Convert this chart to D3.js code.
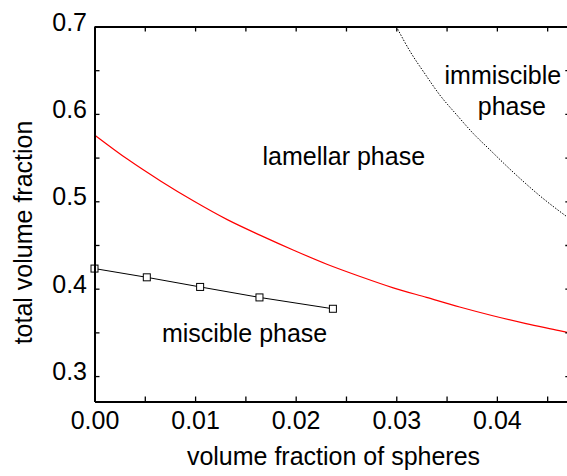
<!DOCTYPE html>
<html>
<head>
<meta charset="utf-8">
<script src="https://cdn.jsdelivr.net/npm/d3@7"></script>
<style>
  body { margin: 0; background: #fff; }
  text { font-family: "Liberation Sans", Arial, sans-serif; fill: #000; }
</style>
</head>
<body>
<svg id="chart" width="567" height="476"></svg>
<script>
// lamellar boundary (red)
var redX = [0, 0.0033, 0.0066, 0.0099, 0.0132, 0.0165, 0.0198, 0.0231, 0.0264, 0.0297, 0.033, 0.0363, 0.0396, 0.0429, 0.0462, 0.047];
var redY = [0.576, 0.548, 0.523, 0.500, 0.479, 0.461, 0.444, 0.428, 0.414, 0.401, 0.390, 0.379, 0.369, 0.360, 0.352, 0.350];

// measured miscible boundary (squares)
var sqX = [0, 0.0052, 0.0105, 0.0164, 0.0237];
var sqY = [0.423, 0.413, 0.402, 0.390, 0.377];

// immiscible boundary (dotted)
var dotX = [0.0300, 0.0314, 0.0329, 0.0343, 0.0360, 0.0377, 0.0393, 0.0410, 0.0426, 0.0443, 0.0470];
var dotY = [0.700, 0.671, 0.645, 0.622, 0.599, 0.577, 0.559, 0.540, 0.523, 0.506, 0.482];

var xTicks = [0, 0.005, 0.01, 0.015, 0.02, 0.025, 0.03, 0.035, 0.04, 0.045];
var yTicks = [0.3, 0.35, 0.4, 0.45, 0.5, 0.55, 0.6, 0.65, 0.7];

var labels = [
  {text: "lamellar phase", x: 0.0167, y: 0.542},
  {text: "immiscible", x: 0.0348, y: 0.6345},
  {text: "phase", x: 0.0381, y: 0.5982},
  {text: "miscible phase", x: 0.0067, y: 0.3386}
];

var svg = d3.select("#chart");
var x = d3.scaleLinear().domain([0, 0.0473]).range([94.5, 570.3]);
var y = d3.scaleLinear().domain([0.2709, 0.7]).range([401.5, 26.5]);

svg.append("defs").append("clipPath").attr("id", "plot")
  .append("rect")
  .attr("x", x(0)).attr("y", y(0.7))
  .attr("width", x(0.0473) - x(0)).attr("height", y(0.2709) - y(0.7));

function pts(xs, ys) {
  return xs.map(function(d, i) { return [d, ys[i]]; });
}

var line = d3.line()
  .x(function(d) { return x(d[0]); })
  .y(function(d) { return y(d[1]); })
  .curve(d3.curveMonotoneX);

var plot = svg.append("g").attr("clip-path", "url(#plot)");

plot.append("path")
  .attr("d", line(pts(redX, redY)))
  .attr("fill", "none")
  .attr("stroke", "#ff0000")
  .attr("stroke-width", 1.2);

plot.append("path")
  .attr("d", line(pts(dotX, dotY)))
  .attr("fill", "none")
  .attr("stroke", "#000")
  .attr("stroke-width", 1)
  .attr("stroke-dasharray", "1.5,1.5");

svg.append("path")
  .attr("d", d3.line().x(function(d) { return x(d[0]); }).y(function(d) { return y(d[1]); })(pts(sqX, sqY)))
  .attr("fill", "none")
  .attr("stroke", "#000")
  .attr("stroke-width", 1);

svg.selectAll("rect.sq")
  .data(pts(sqX, sqY))
  .enter().append("rect")
  .attr("class", "sq")
  .attr("x", function(d) { return x(d[0]) - 3.5; })
  .attr("y", function(d) { return y(d[1]) - 3.5; })
  .attr("width", 7).attr("height", 7)
  .attr("fill", "#fff")
  .attr("stroke", "#000")
  .attr("stroke-width", 1);

// axes
var fmtX = function(d) { return Math.abs(d * 100 - Math.round(d * 100)) < 1e-6 ? d3.format(".2f")(d) : ""; };
var fmtY = function(d) { return Math.abs(d * 10 - Math.round(d * 10)) < 1e-6 ? d3.format(".1f")(d) : ""; };

function styleAxis(g) {
  g.select(".domain").attr("stroke-width", 2);
  g.selectAll(".tick line").attr("stroke-width", 1.3);
  g.selectAll(".tick text")
    .style("font-family", '"Liberation Sans", Arial, sans-serif')
    .style("font-size", "25px")
    .attr("fill", "#000");
}

svg.append("g")
  .attr("transform", "translate(0," + y(0.2709) + ")")
  .call(d3.axisBottom(x).tickValues(xTicks).tickFormat(fmtX).tickSize(-5).tickSizeOuter(0).tickPadding(10))
  .call(styleAxis);

svg.append("g")
  .attr("transform", "translate(0," + y(0.7) + ")")
  .call(d3.axisTop(x).tickValues(xTicks).tickFormat("").tickSize(-5).tickSizeOuter(0))
  .call(styleAxis);

svg.append("g")
  .attr("transform", "translate(" + x(0) + ",0)")
  .call(d3.axisLeft(y).tickValues(yTicks).tickFormat(fmtY).tickSize(-5).tickSizeOuter(0).tickPadding(7.5))
  .call(styleAxis)
  .selectAll(".tick text").attr("dy", "0.14em");

svg.append("g")
  .attr("transform", "translate(" + x(0.0473) + ",0)")
  .call(d3.axisRight(y).tickValues(yTicks).tickFormat("").tickSize(-5).tickSizeOuter(0))
  .call(styleAxis);

// region labels
svg.selectAll("text.region")
  .data(labels)
  .enter().append("text")
  .attr("class", "region")
  .attr("x", function(d) { return x(d.x); })
  .attr("y", function(d) { return y(d.y); })
  .style("font-size", "25px")
  .text(function(d) { return d.text; });

// axis titles
svg.append("text")
  .attr("x", 333.5)
  .attr("y", 465)
  .attr("text-anchor", "middle")
  .style("font-size", "25px")
  .text("volume fraction of spheres");

svg.append("text")
  .attr("transform", "translate(31.5,232.5) rotate(-90)")
  .attr("text-anchor", "middle")
  .style("font-size", "25px")
  .text("total volume fraction");
</script>
</body>
</html>
